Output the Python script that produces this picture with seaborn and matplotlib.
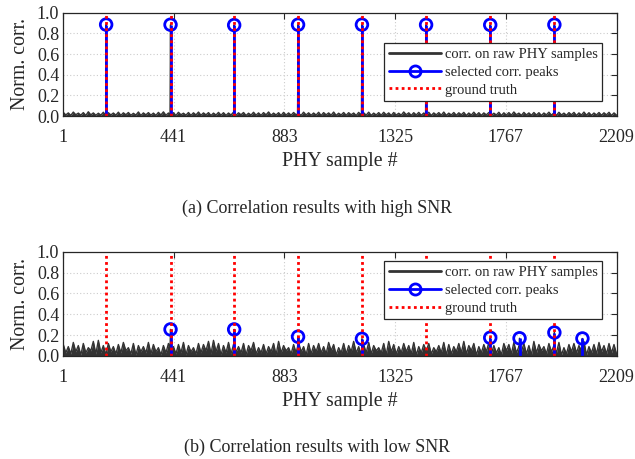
import numpy as np
import pandas as pd
import matplotlib
matplotlib.use("Agg")
import matplotlib.pyplot as plt
from matplotlib.lines import Line2D
from matplotlib.legend_handler import HandlerLine2D
import seaborn as sns

# ---------------- data ----------------
x_ticks = [1, 441, 883, 1325, 1767, 2209]
y_ticks = [0.0, 0.2, 0.4, 0.6, 0.8, 1.0]

truth_pos = [172, 429, 683, 938, 1193, 1449, 1705, 1961]

high_peak_pos = [172, 429, 683, 938, 1193, 1449, 1705, 1961]
high_peak_val = [0.885, 0.884, 0.880, 0.884, 0.884, 0.883, 0.882, 0.884]

low_peak_pos = [429, 683, 938, 1193, 1705, 1822, 1961, 2073]
low_peak_val = [0.255, 0.255, 0.185, 0.165, 0.175, 0.170, 0.225, 0.168]

# correlation floor, sampled every 20 PHY samples (upper / lower extremes)
high_hi = [0.035, 0.030, 0.038, 0.028, 0.033, 0.041, 0.030, 0.027, 0.036, 0.032,
           0.029, 0.037, 0.031, 0.034, 0.026, 0.039, 0.030, 0.033, 0.028, 0.035,
           0.040, 0.029, 0.032, 0.036, 0.027, 0.034, 0.031, 0.038, 0.030, 0.033,
           0.028, 0.035, 0.032, 0.029, 0.037, 0.031, 0.034, 0.027, 0.036, 0.030,
           0.033, 0.039, 0.028, 0.032, 0.035, 0.030, 0.034, 0.026, 0.037, 0.031,
           0.029, 0.036, 0.033, 0.030, 0.038, 0.027, 0.034, 0.032, 0.029, 0.035,
           0.031, 0.037, 0.028, 0.033, 0.036, 0.030, 0.034, 0.027, 0.039, 0.031,
           0.032, 0.035, 0.029, 0.036, 0.030, 0.033, 0.038, 0.028, 0.034, 0.031,
           0.035, 0.029, 0.037, 0.032, 0.030, 0.034, 0.027, 0.036, 0.031, 0.033,
           0.039, 0.028, 0.035, 0.030, 0.034, 0.032, 0.029, 0.037, 0.031, 0.036,
           0.028, 0.033, 0.035, 0.030, 0.038, 0.032, 0.029, 0.034, 0.031, 0.036, 0.030]
high_lo = [0.010, 0.006, 0.012, 0.008, 0.005, 0.011, 0.007, 0.009, 0.004, 0.010,
           0.008, 0.006, 0.012, 0.007, 0.009, 0.005, 0.011, 0.008, 0.006, 0.010,
           0.007, 0.009, 0.005, 0.012, 0.008, 0.006, 0.010, 0.007, 0.011, 0.005,
           0.009, 0.008, 0.006, 0.010, 0.007, 0.012, 0.005, 0.009, 0.008, 0.006,
           0.011, 0.007, 0.010, 0.005, 0.009, 0.008, 0.012, 0.006, 0.010, 0.007,
           0.009, 0.005, 0.011, 0.008, 0.006, 0.010, 0.007, 0.012, 0.005, 0.009,
           0.008, 0.006, 0.010, 0.007, 0.011, 0.005, 0.009, 0.008, 0.012, 0.006,
           0.010, 0.007, 0.009, 0.005, 0.011, 0.008, 0.006, 0.010, 0.007, 0.012,
           0.005, 0.009, 0.008, 0.006, 0.011, 0.007, 0.010, 0.005, 0.009, 0.008,
           0.012, 0.006, 0.010, 0.007, 0.009, 0.005, 0.011, 0.008, 0.006, 0.010,
           0.007, 0.012, 0.005, 0.009, 0.008, 0.006, 0.010, 0.007, 0.011, 0.005, 0.009]

low_hi = [0.11, 0.09, 0.13, 0.10, 0.12, 0.08, 0.14, 0.15, 0.10, 0.12,
          0.09, 0.11, 0.13, 0.08, 0.12, 0.10, 0.09, 0.13, 0.11, 0.08,
          0.10, 0.12, 0.09, 0.11, 0.13, 0.10, 0.08, 0.12, 0.11, 0.14,
          0.15, 0.12, 0.10, 0.13, 0.11, 0.09, 0.12, 0.10, 0.13, 0.08,
          0.11, 0.09, 0.12, 0.14, 0.10, 0.08, 0.11, 0.13, 0.09, 0.12,
          0.10, 0.12, 0.09, 0.13, 0.11, 0.08, 0.12, 0.10, 0.14, 0.09,
          0.11, 0.13, 0.10, 0.08, 0.12, 0.14, 0.11, 0.09, 0.12, 0.10,
          0.13, 0.09, 0.11, 0.12, 0.08, 0.10, 0.13, 0.11, 0.09, 0.12,
          0.14, 0.10, 0.12, 0.09, 0.11, 0.13, 0.10, 0.08, 0.12, 0.11,
          0.13, 0.09, 0.12, 0.10, 0.14, 0.11, 0.09, 0.12, 0.10, 0.13,
          0.08, 0.11, 0.12, 0.10, 0.14, 0.09, 0.11, 0.13, 0.10, 0.12, 0.11]
low_lo = [0.03, 0.02, 0.04, 0.01, 0.03, 0.05, 0.02, 0.03, 0.01, 0.04,
          0.02, 0.03, 0.05, 0.02, 0.01, 0.04, 0.03, 0.02, 0.04, 0.01,
          0.03, 0.05, 0.02, 0.03, 0.01, 0.04, 0.02, 0.03, 0.05, 0.02,
          0.04, 0.01, 0.03, 0.02, 0.04, 0.03, 0.01, 0.05, 0.02, 0.03,
          0.02, 0.04, 0.01, 0.03, 0.05, 0.02, 0.03, 0.04, 0.01, 0.02,
          0.04, 0.03, 0.02, 0.05, 0.01, 0.03, 0.02, 0.04, 0.03, 0.01,
          0.03, 0.02, 0.05, 0.03, 0.01, 0.04, 0.02, 0.03, 0.04, 0.02,
          0.01, 0.03, 0.05, 0.02, 0.04, 0.03, 0.01, 0.02, 0.04, 0.03,
          0.02, 0.05, 0.01, 0.03, 0.04, 0.02, 0.03, 0.01, 0.05, 0.02,
          0.03, 0.04, 0.02, 0.01, 0.03, 0.05, 0.02, 0.04, 0.03, 0.01,
          0.02, 0.04, 0.03, 0.05, 0.01, 0.03, 0.02, 0.04, 0.02, 0.03, 0.02]

# ---------------- style ----------------
sns.set_theme(style="white")
plt.rcParams["font.family"] = ["Liberation Serif", "DejaVu Serif"]
plt.rcParams["mathtext.fontset"] = "stix"
TXT = "#262626"
NOISE = "#333333"


def corr_frame(hi, lo, peak_pos, peak_val):
    xs = np.linspace(1, 2209, 2 * len(hi))
    ys = np.column_stack([hi, lo]).ravel()
    pp = np.array(peak_pos, dtype=float)
    xs2 = np.concatenate([xs, pp, pp - 2, pp + 2])
    ys2 = np.concatenate([ys, peak_val, np.interp(pp - 2, xs, ys), np.interp(pp + 2, xs, ys)])
    return pd.DataFrame({"x": xs2, "y": ys2}).sort_values("x")


class EndMarkerHandler(HandlerLine2D):
    def get_xdata(self, legend, xdescent, ydescent, width, height, fontsize):
        xdata, _ = super().get_xdata(legend, xdescent, ydescent, width, height, fontsize)
        return xdata, np.array([xdata[-1]])


fig = plt.figure(figsize=(6.35, 4.59), dpi=100)
W, H = 635, 459
rects = [(63.3, 12.7, 616.5, 116.0), (63.3, 251.7, 616.5, 356.0)]
legend_tops = [0.707, 0.91]

panels = [
    (corr_frame(high_hi, high_lo, high_peak_pos, high_peak_val), high_peak_pos, high_peak_val,
     "(a) Correlation results with high SNR", 208),
    (corr_frame(low_hi, low_lo, low_peak_pos, low_peak_val), low_peak_pos, low_peak_val,
     "(b) Correlation results with low SNR", 447),
]

for (l, t, r, b), ltop, (df, ppos, pval, cap, capy) in zip(rects, legend_tops, panels):
    ax = fig.add_axes([l / W, 1 - b / H, (r - l) / W, (b - t) / H])
    ax.fill_between(df["x"], 0, df["y"], color=NOISE, linewidth=0, zorder=2)
    sns.lineplot(data=df, x="x", y="y", ax=ax, color=NOISE, linewidth=1.0,
                 estimator=None, sort=True, zorder=2)
    ax.vlines(ppos, 0, pval, color="#0000ff", linewidth=2.0, zorder=3)
    sns.scatterplot(x=ppos, y=pval, ax=ax, marker="o", s=70, facecolors="none",
                    edgecolor="#0000ff", linewidth=2.0, zorder=4)
    ax.vlines(truth_pos, 0, 1, color="#ff0000", linewidth=2.0,
              linestyles=(0, (1, 1.2)), zorder=5)

    ax.set_xlim(1, 2209)
    ax.set_ylim(0, 1)
    ax.set_xticks(x_ticks)
    ax.set_xticklabels([str(v) for v in x_ticks])
    ax.set_yticks(y_ticks)
    ax.set_yticklabels([f"{v:.1f}" for v in y_ticks])
    ax.grid(True, linestyle=(0, (1, 2)), color="#cccccc", linewidth=0.8)
    ax.tick_params(direction="in", top=True, right=True, length=4, width=0.8,
                   labelsize=13, colors="#262626")
    ax.tick_params(axis="x", pad=9.5)
    ax.tick_params(axis="y", pad=3)
    for sp in ax.spines.values():
        sp.set_color("#262626")
        sp.set_linewidth(0.9)
        sp.set_zorder(6)
    ax.set_xlabel("PHY sample #", fontsize=14.3, color=TXT, labelpad=4.5)
    ax.set_ylabel("Norm. corr.", fontsize=14.3, color=TXT, labelpad=5)

    h1 = Line2D([], [], color=NOISE, linewidth=2.0)
    h2 = Line2D([], [], color="#0000ff", linewidth=2.0, marker="o", markersize=8,
                markerfacecolor="none", markeredgewidth=2.0)
    h3 = Line2D([], [], color="#ff0000", linewidth=2.0, linestyle=(0, (1, 1.2)))
    leg = ax.legend([h1, h2, h3],
                    ["corr. on raw PHY samples", "selected corr. peaks", "ground truth"],
                    handler_map={h2: EndMarkerHandler()},
                    loc="upper right", bbox_to_anchor=(0.974, ltop),
                    fontsize=10.5, frameon=True, fancybox=False, framealpha=1,
                    handlelength=3.55, handletextpad=0.27, borderpad=0.32,
                    labelspacing=0.32, borderaxespad=0.0)
    leg.get_frame().set_edgecolor("#262626")
    leg.get_frame().set_linewidth(0.9)
    leg.set_zorder(10)
    for tx in leg.get_texts():
        tx.set_color(TXT)

    fig.text(0.5, 1 - capy / H, cap, ha="center", va="center", fontsize=13, color=TXT)

fig.savefig("out.png", dpi=100)
